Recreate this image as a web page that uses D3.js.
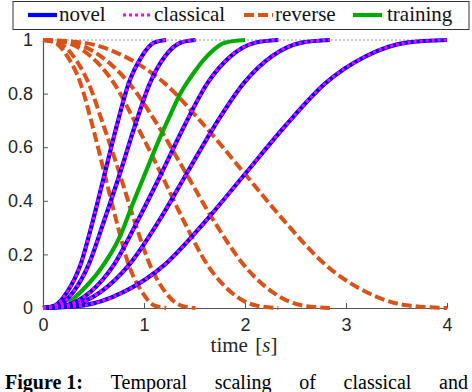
<!DOCTYPE html>
<html><head><meta charset="utf-8">
<script src="https://cdn.jsdelivr.net/npm/d3@7"></script>
<style>html,body{margin:0;padding:0;background:#fff;}svg{display:block;}</style>
</head><body>
<svg id="chart" width="472" height="392"></svg>
<script>
// ---- data ----
const seriesNames = ["novel", "classical", "reverse", "training"];
const xTicks = [0, 1, 2, 3, 4];
const yTicks = [0, 0.2, 0.4, 0.6, 0.8, 1];
const yTickLabels = ["0", "0.2", "0.4", "0.6", "0.8", "1"];
const captionWords = ["Temporal", "scaling", "of", "classical", "and"];

// times of the five temporally scaled executions
const t1 = [0, 0.12, 0.24, 0.37, 0.49, 0.61, 0.73, 0.85, 0.98, 1.10, 1.22];
const t2 = [0, 0.15, 0.30, 0.45, 0.60, 0.76, 0.91, 1.06, 1.21, 1.36, 1.51];
const t3 = [0, 0.23, 0.47, 0.70, 0.93, 1.17, 1.40, 1.63, 1.86, 2.10, 2.33];
const t4 = [0, 0.28, 0.57, 0.85, 1.14, 1.42, 1.70, 1.99, 2.27, 2.56, 2.84];
const t5 = [0, 0.40, 0.80, 1.20, 1.60, 2.00, 2.40, 2.80, 3.20, 3.60, 4.00];

// novel (identical to classical) values
const novel1 = [0, 0.01, 0.06, 0.16, 0.32, 0.50, 0.68, 0.84, 0.94, 0.99, 1];
const novel2 = [0, 0.01, 0.06, 0.16, 0.32, 0.50, 0.68, 0.84, 0.94, 0.99, 1];
const novel3 = [0, 0.01, 0.06, 0.16, 0.32, 0.50, 0.68, 0.84, 0.94, 0.99, 1];
const novel4 = [0, 0.01, 0.06, 0.16, 0.32, 0.50, 0.68, 0.84, 0.94, 0.99, 1];
const novel5 = [0, 0.01, 0.06, 0.16, 0.32, 0.50, 0.68, 0.84, 0.94, 0.99, 1];
const classical1 = [0, 0.01, 0.06, 0.16, 0.32, 0.50, 0.68, 0.84, 0.94, 0.99, 1];
const classical2 = [0, 0.01, 0.06, 0.16, 0.32, 0.50, 0.68, 0.84, 0.94, 0.99, 1];
const classical3 = [0, 0.01, 0.06, 0.16, 0.32, 0.50, 0.68, 0.84, 0.94, 0.99, 1];
const classical4 = [0, 0.01, 0.06, 0.16, 0.32, 0.50, 0.68, 0.84, 0.94, 0.99, 1];
const classical5 = [0, 0.01, 0.06, 0.16, 0.32, 0.50, 0.68, 0.84, 0.94, 0.99, 1];
// reverse values
const reverse1 = [1, 0.99, 0.94, 0.84, 0.68, 0.50, 0.32, 0.16, 0.06, 0.01, 0];
const reverse2 = [1, 0.99, 0.94, 0.84, 0.68, 0.50, 0.32, 0.16, 0.06, 0.01, 0];
const reverse3 = [1, 0.99, 0.94, 0.84, 0.68, 0.50, 0.32, 0.16, 0.06, 0.01, 0];
const reverse4 = [1, 0.99, 0.94, 0.84, 0.68, 0.50, 0.32, 0.16, 0.06, 0.01, 0];
const reverse5 = [1, 0.99, 0.94, 0.84, 0.68, 0.50, 0.32, 0.16, 0.06, 0.01, 0];
// training demonstration
const trainT = [0.26, 0.40, 0.56, 0.76, 0.89, 1.02, 1.14, 1.26, 1.36, 1.46, 1.65, 1.80, 2.00];
const trainY = [0.02, 0.07, 0.14, 0.265, 0.39, 0.51, 0.62, 0.72, 0.80, 0.86, 0.95, 0.99, 1.0];
const goalLevel = 1;

// ---- layout ----
const svg = d3.select("#chart");
const x = d3.scaleLinear().domain([0, 4]).range([43, 447]);
const y = d3.scaleLinear().domain([0, 1]).range([308, 40]);
const C = {novel: "#0000ff", classical: "#ff00ff", reverse: "#d95319", training: "#00aa00"};
const SERIF = "'Liberation Serif', 'Times New Roman', Times, serif";

const zip = (ts, vs) => ts.map((t, i) => [t, vs[i]]);
const line = d3.line().x(d => x(d[0])).y(d => y(d[1])).curve(d3.curveMonotoneX);

// axes
const xAxis = d3.axisBottom(x).tickValues(xTicks).tickFormat(d3.format("d")).tickSizeInner(-5).tickSizeOuter(0).tickPadding(10);
const yAxis = d3.axisLeft(y).tickValues(yTicks).tickFormat((d, i) => yTickLabels[i]).tickSizeInner(-5).tickSizeOuter(0).tickPadding(10);
const gx = svg.append("g").attr("transform", `translate(0,${y(0)})`).call(xAxis);
const gy = svg.append("g").attr("transform", `translate(${x(0)},0)`).call(yAxis);
[gx, gy].forEach(g => {
  g.select(".domain").attr("stroke", "#555").attr("stroke-width", 1.2);
  g.selectAll(".tick line").attr("stroke", "#555");
  g.selectAll(".tick text").attr("fill", "#262626").style("font-family", "'Liberation Sans', Arial, sans-serif").style("font-size", "18px");
});

// gray dotted reference line at goal
svg.append("line").attr("x1", x(0)).attr("x2", x(4)).attr("y1", y(goalLevel)).attr("y2", y(goalLevel))
  .attr("stroke", "#bbbbbb").attr("stroke-width", 1.6).attr("stroke-dasharray", "2,2");

const times = [t1, t2, t3, t4, t5];
const novel = [novel1, novel2, novel3, novel4, novel5];
const classical = [classical1, classical2, classical3, classical4, classical5];
const reverse = [reverse1, reverse2, reverse3, reverse4, reverse5];

// reverse
reverse.forEach((vs, i) => svg.append("path").attr("d", line(zip(times[i], vs)))
  .attr("fill", "none").attr("stroke", C.reverse).attr("stroke-width", 4).attr("stroke-dasharray", "10,4"));
// training
svg.append("path").attr("d", line(zip(trainT, trainY))).attr("fill", "none")
  .attr("stroke", C.training).attr("stroke-width", 4.2);
// novel
novel.forEach((vs, i) => svg.append("path").attr("d", line(zip(times[i], vs)))
  .attr("fill", "none").attr("stroke", C.novel).attr("stroke-width", 4.2));
// classical
classical.forEach((vs, i) => svg.append("path").attr("d", line(zip(times[i], vs)))
  .attr("fill", "none").attr("stroke", C.classical).attr("stroke-width", 3).attr("stroke-dasharray", "3,3"));

// legend
const lg = svg.append("g");
lg.append("rect").attr("x", 13).attr("y", 1.5).attr("width", 456).attr("height", 28)
  .attr("fill", "#fff").attr("stroke", "#333").attr("stroke-width", 1);
const legItems = [
  {name: seriesNames[0], x0: 28, tx: 59, color: C.novel, dash: null, w: 4.2},
  {name: seriesNames[1], x0: 123, tx: 154, color: C.classical, dash: "3,3", w: 3},
  {name: seriesNames[2], x0: 244, tx: 275, color: C.reverse, dash: "10,4", w: 4},
  {name: seriesNames[3], x0: 353, tx: 387, color: C.training, dash: null, w: 4.2}
];
legItems.forEach(d => {
  lg.append("line").attr("x1", d.x0).attr("x2", d.x0 + 29).attr("y1", 15).attr("y2", 15)
    .attr("stroke", d.color).attr("stroke-width", d.w).attr("stroke-dasharray", d.dash);
  lg.append("text").attr("x", d.tx).attr("y", 21).text(d.name)
    .style("font-family", SERIF).style("font-size", "21px").attr("fill", "#111");
});

// x label
const xl = svg.append("text").attr("x", 244).attr("y", 352).attr("text-anchor", "middle")
  .style("font-family", SERIF).style("font-size", "21px").attr("fill", "#262626");
xl.append("tspan").text("time ");
xl.append("tspan").attr("dx", 2).text("[");
xl.append("tspan").style("font-style", "italic").text("s");
xl.append("tspan").text("]");

// caption (justified between x=5 and x=468)
const capG = svg.append("g").style("font-family", SERIF).style("font-size", "20px").attr("fill", "#000");
const capY = 389;
const wordsEls = [];
wordsEls.push(capG.append("text").attr("y", capY).style("font-weight", "bold").text("Figure 1:"));
captionWords.forEach(w => wordsEls.push(capG.append("text").attr("y", capY).text(w)));
const widths = wordsEls.map(e => e.node().getComputedTextLength());
const gap = (468 - 5 - d3.sum(widths)) / (wordsEls.length - 1);
let cx = 5;
wordsEls.forEach((e, i) => { e.attr("x", cx); cx += widths[i] + gap; });
</script>
</body></html>
